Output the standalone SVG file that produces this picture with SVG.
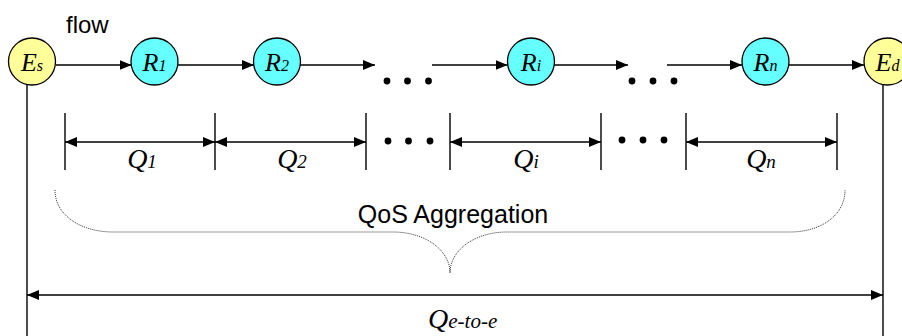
<svg xmlns="http://www.w3.org/2000/svg" width="902" height="336" viewBox="0 0 902 336">
<style>
.bg{fill:#ffffff}
.ln{stroke:#000;stroke-width:1.4;fill:none}
.end{fill:#FFFF99;stroke:#000;stroke-width:1.3}
.rt{fill:#66FFFF;stroke:#000;stroke-width:1.3}
.lab{font-family:"Liberation Serif","Times New Roman",serif;font-style:italic;fill:#000}
.sans{font-family:"Liberation Sans",Arial,sans-serif;fill:#000}
.dot{fill:#000}
.brace{stroke:#333;stroke-width:1;fill:none;stroke-dasharray:1 1}
</style>
<defs>
<marker id="ah" markerUnits="userSpaceOnUse" markerWidth="12" markerHeight="10" refX="12" refY="5" orient="auto-start-reverse">
<path d="M0,0 L12,5 L0,10 z" fill="#000"/>
</marker>
</defs>
<rect class="bg" x="0" y="0" width="902" height="336"/>

<text class="sans" x="66" y="33" font-size="24">flow</text>

<g id="connectors">
<line class="ln" x1="56" y1="65" x2="131.5" y2="65" marker-end="url(#ah)"/>
<line class="ln" x1="178" y1="65" x2="254" y2="65" marker-end="url(#ah)"/>
<line class="ln" x1="300" y1="65" x2="375" y2="65" marker-end="url(#ah)"/>
<line class="ln" x1="432" y1="65" x2="507.5" y2="65" marker-end="url(#ah)"/>
<line class="ln" x1="554" y1="65" x2="628" y2="65" marker-end="url(#ah)"/>
<line class="ln" x1="667" y1="65" x2="742" y2="65" marker-end="url(#ah)"/>
<line class="ln" x1="789" y1="65" x2="864" y2="65" marker-end="url(#ah)"/>
<line class="ln" x1="27" y1="85" x2="27" y2="336"/>
<line class="ln" x1="883" y1="85" x2="883" y2="336"/>
</g>

<g id="dots-top">
<circle class="dot" cx="387" cy="81" r="3.4"/>
<circle class="dot" cx="407.5" cy="81" r="3.4"/>
<circle class="dot" cx="428.5" cy="81" r="3.4"/>
<circle class="dot" cx="632" cy="81" r="3.4"/>
<circle class="dot" cx="653" cy="81" r="3.4"/>
<circle class="dot" cx="674" cy="81" r="3.4"/>
</g>

<g id="node-Es">
<circle class="end" cx="32" cy="61.5" r="23.5"/>
<text class="lab" x="32" y="71" text-anchor="middle"><tspan font-size="26">E</tspan><tspan font-size="16">s</tspan></text>
</g>
<g id="node-R1">
<circle class="rt" cx="154.5" cy="61.5" r="23.5"/>
<text class="lab" x="154.5" y="71" text-anchor="middle"><tspan font-size="26">R</tspan><tspan font-size="16">1</tspan></text>
</g>
<g id="node-R2">
<circle class="rt" cx="277" cy="61.5" r="23.5"/>
<text class="lab" x="277" y="71" text-anchor="middle"><tspan font-size="26">R</tspan><tspan font-size="16">2</tspan></text>
</g>
<g id="node-Ri">
<circle class="rt" cx="531" cy="61.5" r="23.5"/>
<text class="lab" x="531" y="71" text-anchor="middle"><tspan font-size="26">R</tspan><tspan font-size="16">i</tspan></text>
</g>
<g id="node-Rn">
<circle class="rt" cx="765.5" cy="61.5" r="23.5"/>
<text class="lab" x="765.5" y="71" text-anchor="middle"><tspan font-size="26">R</tspan><tspan font-size="16">n</tspan></text>
</g>
<g id="node-Ed">
<circle class="end" cx="887.5" cy="61.5" r="23.5"/>
<text class="lab" x="887.5" y="71" text-anchor="middle"><tspan font-size="26">E</tspan><tspan font-size="16">d</tspan></text>
</g>

<g id="dimensions">
<line class="ln" x1="65" y1="113" x2="65" y2="170"/>
<line class="ln" x1="215" y1="113" x2="215" y2="170"/>
<line class="ln" x1="366" y1="113" x2="366" y2="170"/>
<line class="ln" x1="450" y1="113" x2="450" y2="170"/>
<line class="ln" x1="601" y1="113" x2="601" y2="170"/>
<line class="ln" x1="686" y1="113" x2="686" y2="170"/>
<line class="ln" x1="837" y1="113" x2="837" y2="170"/>
<line class="ln" x1="65" y1="142" x2="215" y2="142" marker-start="url(#ah)" marker-end="url(#ah)"/>
<line class="ln" x1="215" y1="142" x2="366" y2="142" marker-start="url(#ah)" marker-end="url(#ah)"/>
<line class="ln" x1="450" y1="142" x2="601" y2="142" marker-start="url(#ah)" marker-end="url(#ah)"/>
<line class="ln" x1="686" y1="142" x2="837" y2="142" marker-start="url(#ah)" marker-end="url(#ah)"/>
<circle class="dot" cx="388" cy="141" r="3.4"/>
<circle class="dot" cx="408.5" cy="141" r="3.4"/>
<circle class="dot" cx="430" cy="141" r="3.4"/>
<circle class="dot" cx="622" cy="140" r="3.4"/>
<circle class="dot" cx="643" cy="140" r="3.4"/>
<circle class="dot" cx="664" cy="140" r="3.4"/>
<text class="lab" x="142" y="168" text-anchor="middle"><tspan font-size="28">Q</tspan><tspan font-size="19">1</tspan></text>
<text class="lab" x="292" y="168" text-anchor="middle"><tspan font-size="28">Q</tspan><tspan font-size="19">2</tspan></text>
<text class="lab" x="526" y="168" text-anchor="middle"><tspan font-size="28">Q</tspan><tspan font-size="19">i</tspan></text>
<text class="lab" x="761" y="168" text-anchor="middle"><tspan font-size="28">Q</tspan><tspan font-size="19">n</tspan></text>
</g>

<g id="aggregation">
<path class="brace" d="M55,190 C55,216 82,232 113,232 L393,232 C425,232 450,250 450,273 C450,250 475,232 507,232 L790,232 C820,232 845,216 845,190"/>
<text class="sans" x="453" y="223" font-size="25" text-anchor="middle">QoS Aggregation</text>
</g>

<g id="end-to-end">
<line class="ln" x1="27" y1="295" x2="883" y2="295" marker-start="url(#ah)" marker-end="url(#ah)"/>
<text class="lab" x="428" y="328"><tspan font-size="28">Q</tspan><tspan font-size="21">e-to-e</tspan></text>
</g>
</svg>
